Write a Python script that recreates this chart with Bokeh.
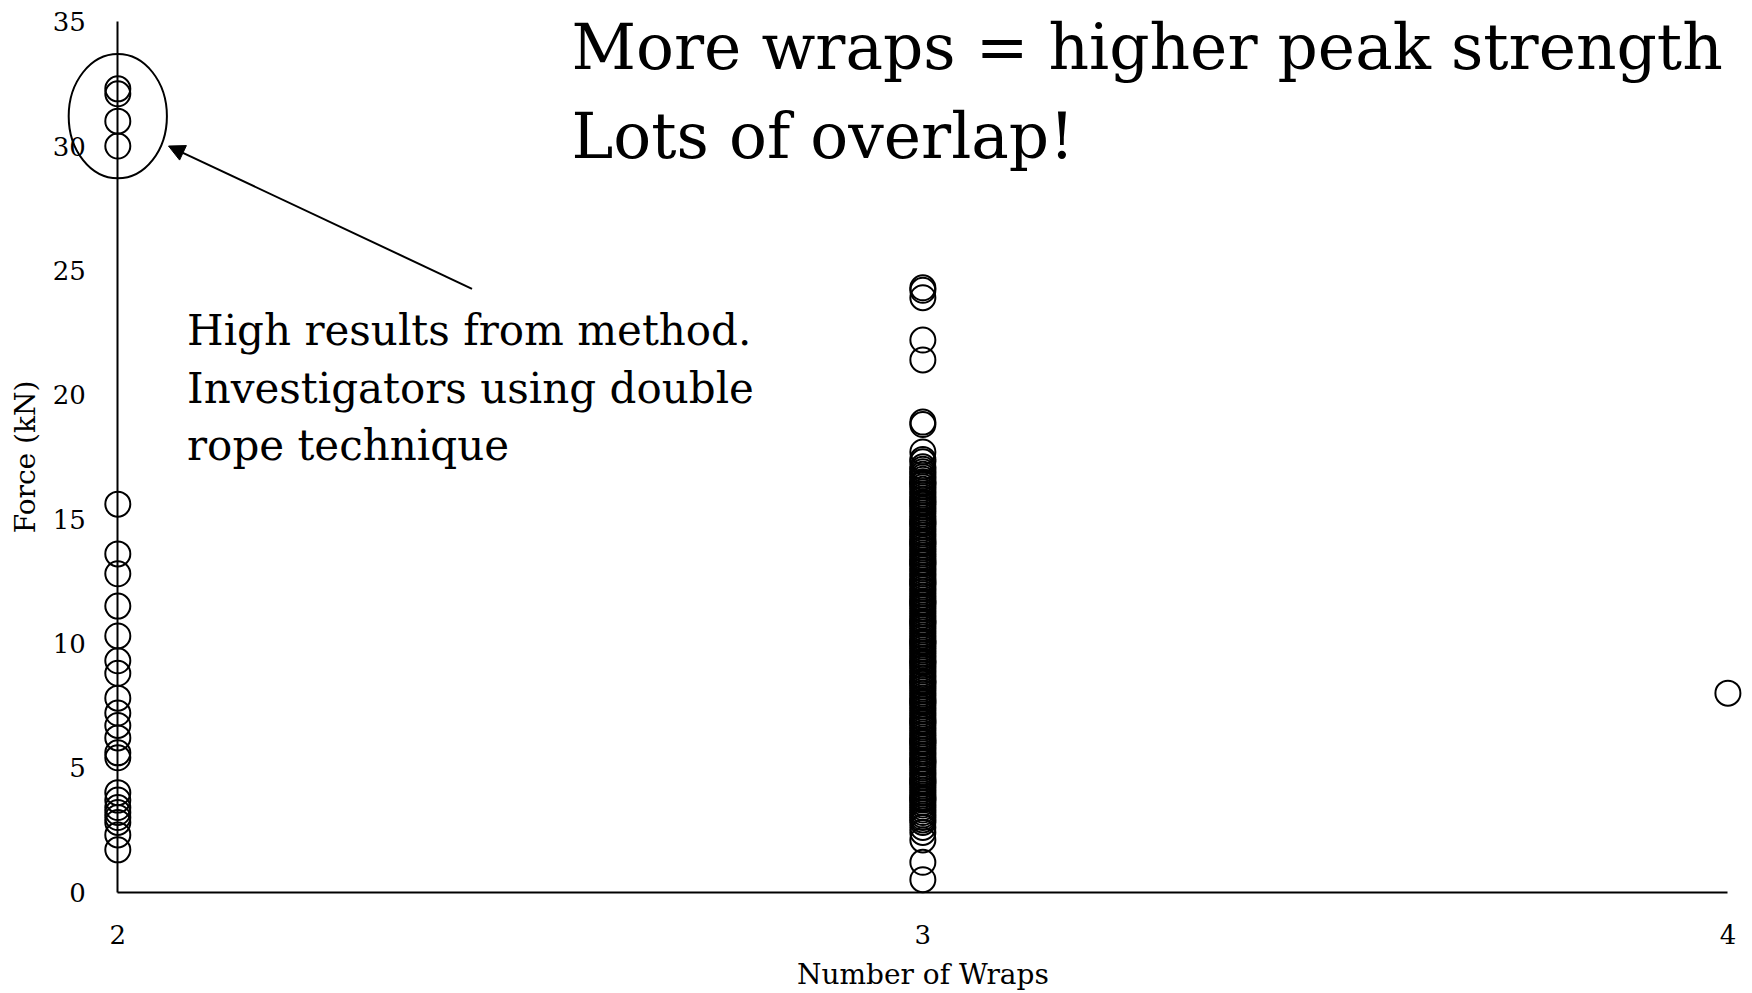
import math
from bokeh.plotting import figure
from bokeh.models import Range1d, Label, Arrow, NormalHead, FixedTicker
from bokeh.embed import file_html
from bokeh.resources import INLINE

FONT = "DejaVu Serif"

# Data
wraps2_force = [32.3, 32.1, 31.0, 30.0, 15.6, 13.6, 12.8, 11.5, 10.3, 9.3, 8.8,
                7.8, 7.2, 6.7, 6.2, 5.6, 5.4, 4.0, 3.7, 3.4, 3.2, 3.0, 2.8, 2.3, 1.7]
wraps3_force = [24.3, 24.2, 23.9, 22.2, 21.4, 18.9, 18.8, 17.7, 17.3, 17.1,
                16.9, 16.7, 16.6, 16.4, 16.2, 16.1, 15.9, 15.8, 15.6, 15.4,
                15.3, 15.1, 14.9, 14.8, 14.6, 14.4, 14.3, 14.1, 13.9, 13.8,
                13.6, 13.5, 13.3, 13.1, 12.9, 12.8, 12.6, 12.4, 12.3, 12.1,
                11.9, 11.8, 11.6, 11.5, 11.3, 11.1, 11.0, 10.8, 10.6, 10.5,
                10.3, 10.2, 10.0, 9.8, 9.7, 9.5, 9.3, 9.2, 9.0, 8.9,
                8.7, 8.5, 8.4, 8.2, 8.0, 7.9, 7.7, 7.6, 7.4, 7.2,
                7.1, 6.9, 6.8, 6.6, 6.4, 6.3, 6.1, 6.0, 5.8, 5.6,
                5.5, 5.3, 5.2, 5.0, 4.8, 4.7, 4.5, 4.4, 4.2, 4.0,
                3.9, 3.7, 3.6, 3.4, 3.2, 3.0, 2.9, 2.6, 2.4, 2.1,
                1.2, 0.5,
                17.4, 17.0, 16.8, 16.5, 16.3, 16.0, 15.7, 15.5, 15.2, 15.0,
                14.7, 14.5, 14.2, 14.0, 13.7, 13.4, 13.2, 13.0, 12.7, 12.5,
                12.2, 12.0, 11.7, 11.4, 11.2, 10.9, 10.7, 10.4, 10.1, 9.9,
                9.6, 9.4, 9.1, 8.8, 8.6, 8.3, 8.1, 7.8, 7.5, 7.3,
                7.0, 6.7, 6.5, 6.2, 5.9, 5.7, 5.4, 5.1, 4.9, 4.6,
                4.3, 4.1, 3.8, 3.5, 3.3, 3.1, 2.8,
                16.45, 15.65, 14.85, 14.05, 13.25, 12.45, 11.65, 10.85, 10.05,
                9.25, 8.45, 7.65, 6.85, 6.05, 5.25, 4.45, 3.75]
wraps4_force = [8.0]

x_ticks = [2, 3, 4]
y_ticks = [0, 5, 10, 15, 20, 25, 30, 35]

W, H = 1750, 993
p = figure(width=W, height=H, output_backend="svg", toolbar_location=None,
           x_range=Range1d(1.85429, 4.02807), y_range=Range1d(-4.077, 35.852),
           min_border_left=0, min_border_right=0, min_border_top=0,
           min_border_bottom=0)
p.outline_line_color = None
p.grid.visible = False
p.background_fill_color = "white"
p.border_fill_color = "white"

xs = [2] * len(wraps2_force) + [3] * len(wraps3_force) + [4] * len(wraps4_force)
ys = wraps2_force + wraps3_force + wraps4_force
p.scatter(xs, ys, marker="circle", size=25, fill_color=None,
          line_color="black", line_width=2)

for ax in (p.xaxis[0], p.yaxis[0]):
    ax.major_tick_line_color = None
    ax.minor_tick_line_color = None
    ax.axis_line_color = "black"
    ax.axis_line_width = 2
    ax.major_label_text_font = FONT
    ax.major_label_text_font_size = "26px"
    ax.major_label_text_color = "black"

p.xaxis.ticker = FixedTicker(ticks=x_ticks)
p.yaxis.ticker = FixedTicker(ticks=y_ticks)
p.xaxis.fixed_location = 0
p.yaxis.fixed_location = 2
p.xaxis.bounds = (2, 4)
p.yaxis.bounds = (0, 35)
p.xaxis.major_label_standoff = 27
p.yaxis.major_label_standoff = 26

# Axis titles
p.add_layout(Label(x=3, y=-3.3, text="Number of Wraps", text_font=FONT,
                   text_font_size="28px", text_align="center",
                   text_baseline="middle", text_color="black"))
p.add_layout(Label(x=1.8848, y=17.5, text="Force (kN)", text_font=FONT,
                   text_font_size="28px", text_align="center",
                   text_baseline="middle", text_color="black",
                   angle=math.pi / 2))

# Highlight ellipse
p.ellipse(x=[2.0], y=[31.2], width=[0.122], height=[5.0], fill_color=None,
          line_color="black", line_width=2)

p.add_layout(Arrow(end=NormalHead(size=16, fill_color="black", line_color="black"),
                   x_start=2.44, y_start=24.26, x_end=2.063, y_end=30.0,
                   line_color="black", line_width=2))

for txt, yy in [("More wraps = higher peak strength", 33.96), ("Lots of overlap!", 30.37)]:
    p.add_layout(Label(x=2.5636, y=yy, text=txt, text_font=FONT,
                       text_font_size="63px", text_baseline="middle",
                       text_color="black"))

for txt, yy in [("High results from method.", 22.6),
                ("Investigators using double", 20.26),
                ("rope technique", 17.97)]:
    p.add_layout(Label(x=2.086, y=yy, text=txt, text_font=FONT,
                       text_font_size="42px", text_baseline="middle",
                       text_color="black"))

open("out.html", "w").write(file_html(p, INLINE))
